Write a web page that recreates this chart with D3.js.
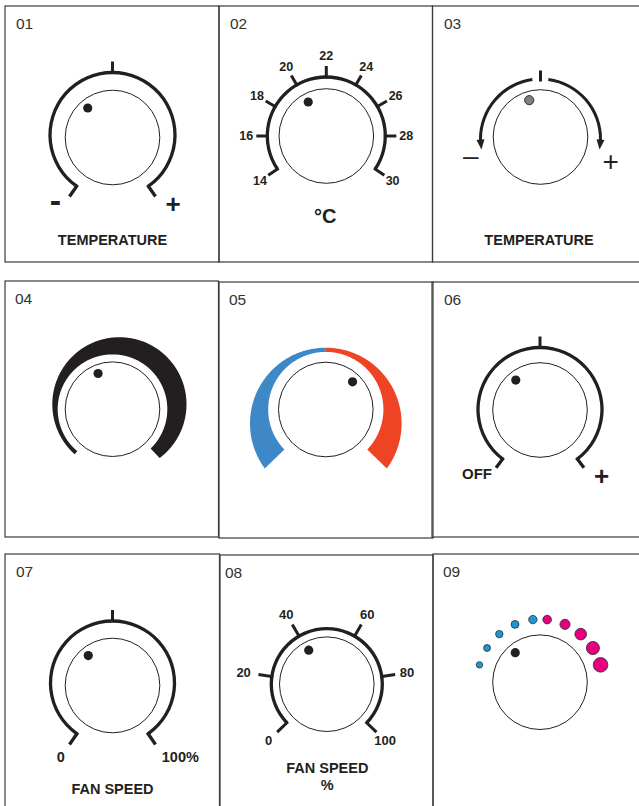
<!DOCTYPE html>
<html>
<head>
<meta charset="utf-8">
<script src="https://cdn.jsdelivr.net/npm/d3@7"></script>
<style>
  body { margin: 0; background: #fff; }
  svg { display: block; }
  text { font-family: "Liberation Sans", Arial, sans-serif; fill: #231f20; }
</style>
</head>
<body>
<svg width="639" height="806"></svg>
<script>
// ---- data ----
const panelIds = ["01", "02", "03", "04", "05", "06", "07", "08", "09"];
const tempTicks = [14, 16, 18, 20, 22, 24, 26, 28, 30];
const fanTicks = [0, 20, 40, 60, 80, 100];
// pointer dot position of each knob, degrees clockwise from 12 o'clock
const pointerAngles = [-40, -28, -17, -22, 44, -39, -39, -28, -40];
const fanLevels = [1, 2, 3, 4, 5, 6, 7, 8, 9, 10];
const levelModes = ["cool", "cool", "cool", "cool", "cool", "heat", "heat", "heat", "heat", "heat"];
const captions = ["TEMPERATURE", "°C", "TEMPERATURE", "", "", "", "FAN SPEED", "FAN SPEED", ""];

// ---- layout ----
const panels = [
  {x: 5, y: 6, w: 214, h: 256, cx: 112.5, cy: 137.5, nx: 11},
  {x: 219, y: 6, w: 213.5, h: 256, cx: 326.3, cy: 136, nx: 11},
  {x: 432.5, y: 6, w: 210, h: 256, cx: 540.5, cy: 137, nx: 11.5},
  {x: 5, y: 281, w: 213.5, h: 256, cx: 112.5, cy: 409.2, nx: 10},
  {x: 219, y: 282, w: 214, h: 256, cx: 325.8, cy: 409.5, nx: 10},
  {x: 432, y: 282, w: 210, h: 255, cx: 540, cy: 410, nx: 12},
  {x: 5, y: 554, w: 214.5, h: 260, cx: 112.5, cy: 685.5, nx: 11},
  {x: 220, y: 555, w: 213, h: 260, cx: 326.8, cy: 684.2, nx: 5},
  {x: 433, y: 554, w: 210, h: 260, cx: 540, cy: 682.2, nx: 10}
];

const ink = "#231f20";
const svg = d3.select("svg");
const rad = d => d * Math.PI / 180;

function polar(r, deg) {
  return [r * Math.sin(rad(deg)), -r * Math.cos(rad(deg))];
}

// thick arc drawn with d3.arc
function ring(g, oy, r, a0, a1, w) {
  g.append("path")
    .attr("transform", `translate(0,${oy})`)
    .attr("d", d3.arc()({innerRadius: r - w / 2, outerRadius: r + w / 2,
                         startAngle: rad(a0), endAngle: rad(a1)}))
    .attr("fill", ink);
}

function tick(g, oy, r0, r1, deg, w) {
  const p0 = polar(r0, deg), p1 = polar(r1, deg);
  g.append("line")
    .attr("x1", p0[0]).attr("y1", p0[1] + oy)
    .attr("x2", p1[0]).attr("y2", p1[1] + oy)
    .attr("stroke", ink).attr("stroke-width", w);
}

function label(g, x, y, txt, size, weight, central) {
  const t = g.append("text")
    .attr("x", x).attr("y", y)
    .attr("text-anchor", "middle")
    .attr("font-size", size)
    .attr("font-weight", weight)
    .text(txt);
  if (central) t.attr("dominant-baseline", "central");
  return t;
}

function knobBody(g, i, dotFill) {
  g.append("circle").attr("r", 47.3)
    .attr("fill", "none").attr("stroke", ink).attr("stroke-width", 1);
  const p = polar(38.5, pointerAngles[i]);
  g.append("circle").attr("cx", p[0]).attr("cy", p[1]).attr("r", 4.6)
    .attr("fill", dotFill || ink)
    .attr("stroke", dotFill ? "#333" : "none").attr("stroke-width", 1);
}

// ---- panels ----
const frames = svg.selectAll("g.panel")
  .data(panels)
  .join("g")
  .attr("class", "panel");

frames.append("rect")
  .attr("x", d => d.x).attr("y", d => d.y)
  .attr("width", d => d.w).attr("height", d => d.h)
  .attr("fill", "none").attr("stroke", "#3a3a3a").attr("stroke-width", 1.2);

frames.append("text")
  .attr("x", d => d.x + d.nx).attr("y", d => d.y + 23)
  .attr("font-size", 15.5)
  .style("fill", "#333")
  .text((d, i) => panelIds[i]);

const knobs = panels.map(p => svg.append("g").attr("transform", `translate(${p.cx},${p.cy})`));

// 01 temperature ring with end hooks
(function () {
  const g = knobs[0];
  ring(g, -2.5, 62.5, -145, 145, 3.3);
  tick(g, -2.5, 62.5, 73.5, 0, 3);
  tick(g, -2.5, 61, 75, -145, 3.3);
  tick(g, -2.5, 61, 75, 145, 3.3);
  knobBody(g, 0);
  label(g, -57.2, 62, "-", 34, "bold", true);
  label(g, 60.5, 66.5, "+", 26, "bold", true);
  label(g, 0, 107.5, captions[0], 14.5, "bold");
})();

// 02 graduated temperature dial
(function () {
  const g = knobs[1];
  const angle = d3.scaleLinear().domain([14, 16, 28, 30]).range([-124, -90, 90, 124]);
  ring(g, 0, 59, angle(14), angle(30), 3.3);
  tempTicks.forEach(t => tick(g, 0, 57.5, 70, angle(t), 3));
  g.selectAll("text.tk")
    .data(tempTicks)
    .join("text")
    .attr("class", "tk")
    .attr("x", d => polar(80, angle(d))[0])
    .attr("y", d => polar(80, angle(d))[1])
    .attr("text-anchor", "middle")
    .attr("dominant-baseline", "central")
    .attr("font-size", 12.5)
    .attr("font-weight", "bold")
    .text(d => d);
  knobBody(g, 1);
  label(g, -1, 86.7, captions[1], 20, "bold");
})();

// 03 arrows
(function () {
  const g = knobs[2];
  const oy = 2, r = 60;
  ring(g, oy, r, -91, -7.8, 3);
  ring(g, oy, r, 7.5, 91, 3);
  [-1, 1].forEach(s => {
    const tip = polar(r, 100 * s), base = polar(r, 90.5 * s);
    const dx = tip[0] - base[0], dy = tip[1] - base[1];
    const len = Math.hypot(dx, dy);
    const nx = -dy / len * 4, ny = dx / len * 4;
    g.append("path")
      .attr("d", d3.line()([[tip[0], tip[1] + oy],
                            [base[0] + nx, base[1] + ny + oy],
                            [base[0] - nx, base[1] - ny + oy]]) + "Z")
      .attr("fill", ink);
  });
  tick(g, oy, r - 2.5, r + 8.5, 0, 3);
  knobBody(g, 2, "#7f7f7f");
  label(g, -69.7, 18.7, "–", 28, "normal", true);
  label(g, 70.2, 24.7, "+", 28, "normal", true);
  label(g, -1.5, 108, captions[2], 14.5, "bold");
})();

// radial band whose outer edge is an offset circle
function band(g, a0, a1, rIn, ox, oy, R, fill) {
  const outer = a => {
    const ux = Math.sin(a), uy = -Math.cos(a);
    const b = ux * ox + uy * oy;
    return b + Math.sqrt(b * b - (ox * ox + oy * oy) + R * R);
  };
  const area = d3.areaRadial()
    .angle(d => d)
    .innerRadius(rIn)
    .outerRadius(outer);
  g.append("path")
    .attr("d", area(d3.range(rad(a0), rad(a1), rad(0.5)).concat([rad(a1)])))
    .attr("fill", fill);
}

// 04 black growing band
(function () {
  const g = knobs[3];
  band(g, -140, 136, 54.8, 6.9, -4.9, 67.1, ink);
  knobBody(g, 3);
})();

// 05 blue / red band
(function () {
  const g = knobs[4];
  band(g, -134, 0, 57.6, 0, 14, 75.8, "#3f88c7");
  band(g, 0, 134, 57.6, 0, 14, 75.8, "#ef4424");
  knobBody(g, 4);
})();

// 06 OFF / +
(function () {
  const g = knobs[5];
  ring(g, -0.5, 62, -143, 143, 3.3);
  tick(g, -0.5, 62, 73, 0, 3);
  tick(g, -0.5, 60.5, 73, -143, 3.3);
  tick(g, -0.5, 60.5, 73, 143, 3.3);
  knobBody(g, 5);
  label(g, -63, 69, "OFF", 15, "bold");
  label(g, 61.7, 66, "+", 26, "bold", true);
})();

// 07 fan speed 0..100%
(function () {
  const g = knobs[6];
  ring(g, -2.5, 62, -145, 145, 3.3);
  tick(g, -2.5, 62, 73, 0, 3);
  tick(g, -2.5, 60.5, 75, -145, 3.3);
  tick(g, -2.5, 60.5, 75, 145, 3.3);
  knobBody(g, 6);
  label(g, -51.7, 76.2, "0", 14.5, "bold");
  label(g, 67.8, 76.2, "100%", 14.5, "bold");
  label(g, 0, 108.5, captions[6], 14.5, "bold");
})();

// 08 graduated fan speed dial
(function () {
  const g = knobs[7];
  const angle = d3.scaleLinear().domain([0, 20, 40, 60, 80, 100]).range([-134, -82, -30, 30, 82, 134]);
  ring(g, 0, 55.5, angle(0), angle(100), 3.3);
  fanTicks.forEach(t => tick(g, 0, 54, 69, angle(t), 3));
  g.selectAll("text.tk")
    .data(fanTicks)
    .join("text")
    .attr("class", "tk")
    .attr("x", d => polar(d === 20 ? 84 : 81, angle(d))[0])
    .attr("y", d => polar(d === 20 ? 84 : 81, angle(d))[1])
    .attr("text-anchor", "middle")
    .attr("dominant-baseline", "central")
    .attr("font-size", 13)
    .attr("font-weight", "bold")
    .text(d => d);
  knobBody(g, 7);
  label(g, 0.5, 89, captions[7], 14.5, "bold");
  label(g, 0.5, 105.8, "%", 14.5, "bold");
})();

// 09 dotted level scale
(function () {
  const g = knobs[8];
  const angle = d3.scaleLinear().domain([1, 5, 6, 10]).range([-74, -6.5, 6.5, 74]);
  const size = d3.scaleLinear().domain([1, 5, 6, 10]).range([3.2, 4.2, 4.3, 7.3]);
  const color = d3.scaleOrdinal().domain(["cool", "heat"]).range(["#1f97d4", "#e5007e"]);
  g.selectAll("circle.lvl")
    .data(fanLevels)
    .join("circle")
    .attr("class", "lvl")
    .attr("cx", d => polar(63, angle(d))[0])
    .attr("cy", d => polar(63, angle(d))[1])
    .attr("r", d => size(d))
    .attr("fill", (d, i) => color(levelModes[i]))
    .attr("stroke", "#2b2b2b")
    .attr("stroke-width", 0.8);
  knobBody(g, 8);
})();
</script>
</body>
</html>
